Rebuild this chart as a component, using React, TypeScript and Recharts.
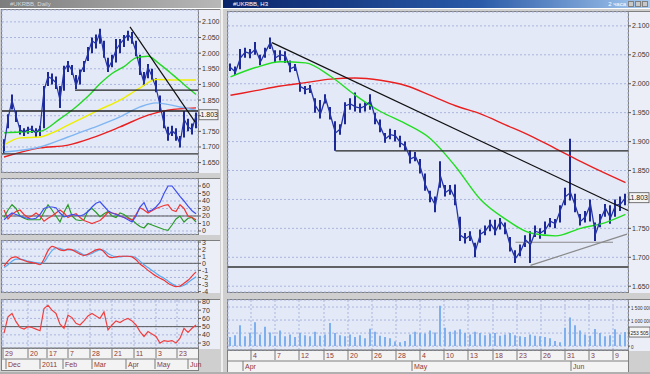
import React from "react";
import {
  ComposedChart,
  Bar,
  Line,
  XAxis,
  YAxis,
  CartesianGrid,
  ReferenceLine,
} from "recharts";

const FONT = "'Liberation Sans', 'DejaVu Sans', sans-serif";
const PLOT_BG = "#e4e9f8";
const AXIS_BG = "#eceef7";
const GRID = "#a9b5dc";
const FRAME = "#7f7f7f";
const WIN_BG = "#cfcfcf";

// ---- right window: 2h bars, Apr - Jun ----
const R_CLOSE = [
  2.028, 2.02, 2.045, 2.055, 2.052, 2.06, 2.038, 2.055, 2.072, 2.045,
  2.05, 2.048, 2.026, 2.03, 1.995, 1.99, 1.992, 1.962, 1.948, 1.975,
  1.945, 1.915, 1.922, 1.962, 1.965, 1.96, 1.958, 1.962, 1.97, 1.94,
  1.925, 1.905, 1.912, 1.91, 1.898, 1.892, 1.87, 1.874, 1.855, 1.825,
  1.805, 1.79, 1.84, 1.812, 1.818, 1.8, 1.738, 1.732, 1.738, 1.712,
  1.74, 1.746, 1.758, 1.745, 1.762, 1.75, 1.718, 1.698, 1.71, 1.73,
  1.722, 1.745, 1.742, 1.748, 1.762, 1.758, 1.782, 1.805, 1.812, 1.788,
  1.762, 1.77, 1.792, 1.74, 1.765, 1.785, 1.768, 1.79, 1.792, 1.803,
];
const R_HIGH = [
  2.035, 2.03, 2.06, 2.062, 2.06, 2.072, 2.05, 2.062, 2.08, 2.058,
  2.058, 2.056, 2.04, 2.034, 2.002, 1.996, 1.998, 1.975, 1.972, 1.982,
  1.96, 1.935, 1.93, 1.968, 1.975, 1.985, 1.966, 1.968, 1.982, 1.95,
  1.938, 1.915, 1.922, 1.92, 1.91, 1.9, 1.885, 1.882, 1.87, 1.845,
  1.815, 1.805, 1.866, 1.825, 1.825, 1.826, 1.77, 1.742, 1.745, 1.725,
  1.748, 1.755, 1.765, 1.765, 1.768, 1.76, 1.735, 1.712, 1.722, 1.738,
  1.745, 1.755, 1.75, 1.762, 1.768, 1.766, 1.79, 1.82, 1.905, 1.81,
  1.775, 1.78, 1.8, 1.76, 1.775, 1.792, 1.79, 1.8, 1.805, 1.81,
];
const R_LOW = [
  2.022, 2.015, 2.025, 2.045, 2.044, 2.05, 2.032, 2.045, 2.06, 2.036,
  2.04, 2.036, 2.02, 2.022, 1.986, 1.982, 1.984, 1.95, 1.94, 1.966,
  1.938, 1.884, 1.912, 1.93, 1.955, 1.952, 1.95, 1.952, 1.955, 1.93,
  1.916, 1.898, 1.904, 1.9, 1.89, 1.884, 1.862, 1.866, 1.845, 1.815,
  1.795, 1.778, 1.82, 1.805, 1.808, 1.79, 1.728, 1.724, 1.728, 1.7,
  1.725, 1.738, 1.745, 1.738, 1.748, 1.74, 1.71, 1.69, 1.702, 1.718,
  1.69, 1.735, 1.732, 1.74, 1.752, 1.75, 1.76, 1.79, 1.798, 1.778,
  1.755, 1.76, 1.762, 1.728, 1.752, 1.77, 1.758, 1.77, 1.78, 1.79,
];
const R_MA_GREEN = [
  [0, 2.012], [5, 2.028], [10, 2.038], [15, 2.036], [20, 2.013], [25, 1.98],
  [30, 1.952], [35, 1.931], [40, 1.905], [45, 1.857], [50, 1.8], [55, 1.766],
  [60, 1.742], [65, 1.737], [70, 1.75], [75, 1.76], [79, 1.774],
];
const R_MA_RED = [
  [0, 1.98], [5, 1.988], [10, 1.996], [15, 2.002], [20, 2.008], [25, 2.01],
  [30, 2.006], [35, 1.997], [40, 1.98], [45, 1.962], [50, 1.948], [55, 1.929],
  [60, 1.91], [65, 1.888], [70, 1.866], [75, 1.845], [79, 1.829],
];
// volume, thousands
const R_VOL = [
  350, 420, 800, 380, 500, 920, 450, 740, 520, 400,
  600, 380, 450, 350, 500, 420, 380, 550, 400, 450,
  890, 500, 420, 380, 450, 350, 420, 300, 670, 550,
  400, 350, 300, 180, 150, 200, 450, 550, 500, 480,
  600, 520, 1550, 700, 550, 600, 650, 500, 450, 550,
  500, 420, 480, 500, 400, 450, 500, 420, 380, 350,
  450, 400, 380, 350, 300, 200, 150, 700, 1100, 800,
  600, 450, 400, 660, 500, 380, 420, 650, 450, 540,
];
const R_TREND = [[8.3, 2.071], [79.5, 1.781]];
const R_RES = [[21, 1.884], [79.5, 1.884]];
const R_BASE = [[-0.5, 1.683], [79.5, 1.683]];
const R_SUP = [[57, 1.726], [76.5, 1.726]];
const R_RISE = [[60, 1.686], [79.3, 1.74]];
const R_DAY_TICKS = [4.1, 8.9, 13.7, 18.7, 23.5, 28.3, 33.1, 37.9, 42.7, 47.5, 52.5, 57.3, 62.1, 66.9, 71.7, 76.5];
const R_DAY_LABELS = ["4", "7", "12", "15", "20", "26", "28", "4", "10", "13", "18", "23", "26", "31", "3", "9"];
const R_MONTH_TICKS = [2.5, 36.3, 68.1];
const R_MONTH_LABELS = ["Apr", "May", "Jun"];
const PRICE_TICKS = [1.65, 1.7, 1.75, 1.8, 1.85, 1.9, 1.95, 2.0, 2.05, 2.1];
const VOL_TICKS = [0, 500000, 1000000, 1500000];

// ---- left window: daily, Dec 2010 - Jun 2011 ----
const L_CLOSE = [
  1.7, 1.79, 1.85, 1.8, 1.755, 1.748, 1.756, 1.758, 1.744, 1.76,
  1.88, 1.925, 1.918, 1.905, 1.85, 1.945, 1.965, 1.945, 1.895, 1.935,
  1.96, 2.0, 2.04, 2.03, 2.068, 1.995, 1.95, 1.975, 2.01, 2.03,
  2.045, 2.06, 2.045, 2.005, 1.95, 1.905, 1.955, 1.925, 1.89, 1.835,
  1.775, 1.735, 1.752, 1.74, 1.71, 1.79, 1.765, 1.755, 1.8,
];
const L_HIGH = [
  1.725, 1.805, 1.868, 1.815, 1.77, 1.76, 1.765, 1.768, 1.76, 1.768,
  1.895, 1.94, 1.935, 1.925, 1.895, 1.96, 1.975, 1.962, 1.93, 1.948,
  1.975, 2.02, 2.05, 2.06, 2.078, 2.04, 1.985, 1.995, 2.045, 2.045,
  2.058, 2.072, 2.068, 2.04, 1.995, 1.94, 1.965, 1.95, 1.92, 1.865,
  1.815, 1.765, 1.768, 1.76, 1.735, 1.815, 1.79, 1.775, 1.81,
];
const L_LOW = [
  1.68, 1.76, 1.82, 1.78, 1.74, 1.735, 1.742, 1.745, 1.73, 1.735,
  1.76, 1.895, 1.9, 1.885, 1.825, 1.88, 1.94, 1.93, 1.885, 1.9,
  1.94, 1.975, 2.0, 2.015, 2.03, 1.985, 1.94, 1.955, 1.97, 2.0,
  2.02, 2.04, 2.03, 1.99, 1.93, 1.895, 1.92, 1.915, 1.875, 1.815,
  1.76, 1.72, 1.735, 1.72, 1.698, 1.73, 1.75, 1.74, 1.76,
];
const L_MA_GREEN = [
  [0, 1.745], [4, 1.748], [9, 1.75], [14, 1.79], [18, 1.828], [21, 1.862],
  [24, 1.902], [27, 1.935], [30, 1.957], [33, 1.985], [36, 1.99], [39, 1.964],
  [42, 1.933], [45, 1.9], [48, 1.868],
];
const L_MA_YELLOW = [
  [0, 1.706], [4, 1.729], [9, 1.732], [12, 1.745], [16, 1.77], [20, 1.795],
  [24, 1.82], [29, 1.85], [34, 1.889], [38, 1.916], [43, 1.914], [48, 1.914],
];
const L_MA_BLUE = [
  [0, 1.684], [9, 1.7], [16, 1.732], [22, 1.76], [29, 1.796], [34, 1.828],
  [38, 1.841], [44, 1.828], [48, 1.818],
];
const L_MA_RED = [
  [0, 1.668], [9, 1.697], [16, 1.706], [22, 1.729], [29, 1.764], [36, 1.802],
  [41, 1.818], [48, 1.825],
];
const L_TREND = [[31.5, 2.084], [47.75, 1.78]];
const L_RES = [[17.75, 1.882], [48.5, 1.882]];
const L_MID = [[-0.5, 1.815], [48.5, 1.815]];
const L_BASE = [[-0.5, 1.678], [48.5, 1.678]];

const ADX_BLUE = [
  15, 20, 24, 22, 20, 18, 17, 16, 17, 22, 30, 32, 32, 31, 24, 19, 20, 22, 21, 20,
  22, 26, 32, 37, 39, 33, 27, 24, 22, 20, 18, 15, 12, 20, 32, 38, 26, 28, 32, 38,
  50, 60, 60, 53, 46, 40, 33, 27, 23,
];
const ADX_RED = [
  28, 16, 22, 26, 28, 22, 18, 20, 24, 20, 13, 17, 20, 24, 28, 24, 18, 21, 23, 18,
  14, 12, 10, 12, 14, 19, 25, 24, 23, 20, 18, 17, 14, 22, 31, 28, 24, 27, 30, 32,
  34, 35, 28, 26, 35, 30, 20, 18, 15,
];
const ADX_GREEN = [
  18, 28, 35, 30, 20, 17, 15, 15, 15, 15, 25, 35, 28, 20, 12, 25, 35, 20, 15, 14,
  15, 27, 30, 25, 19, 23, 26, 20, 18, 24, 22, 18, 15, 10, 6, 4, 10, 8, 6, 4,
  2, 1, 8, 16, 20, 12, 17, 18, 12,
];
const MACD_RED = [
  -0.4, 0.3, 0.8, 0.9, 0.6, 0.4, 0.2, 0.1, 0.0, -0.2, 0.6, 1.8, 2.4, 2.2, 1.9, 1.8, 2.0, 1.9, 1.6, 1.3,
  1.1, 1.3, 1.6, 1.9, 2.0, 1.6, 1.0, 0.8, 0.9, 1.0, 1.0, 1.0, 0.9, 0.5, -0.1, -0.5, -1.0, -1.4, -1.8, -2.1,
  -2.4, -2.8, -3.1, -3.3, -3.2, -2.8, -2.4, -1.8, -1.2,
];
const MACD_BLUE = [
  -0.6, -0.2, 0.3, 0.6, 0.6, 0.5, 0.3, 0.2, 0.1, 0.0, 0.2, 1.0, 1.8, 2.2, 2.1, 1.9, 1.9, 1.9, 1.8, 1.5,
  1.2, 1.2, 1.4, 1.7, 1.9, 1.8, 1.4, 1.1, 0.9, 0.9, 1.0, 1.0, 1.0, 0.8, 0.3, -0.2, -0.6, -1.0, -1.4, -1.8,
  -2.1, -2.5, -2.9, -3.2, -3.3, -3.1, -2.7, -2.3, -1.9,
];
const RSI = [
  42, 62, 66, 56, 49, 47, 50, 49, 47, 45, 72, 76, 70, 66, 53, 48, 64, 61, 54, 52,
  57, 63, 66, 63, 60, 68, 46, 52, 57, 55, 58, 60, 57, 52, 44, 38, 44, 41, 38, 30,
  33, 32, 33, 30, 36, 48, 43, 48, 52,
];
const L_DAY_TICKS = [-0.25, 6, 10.75, 16, 21.5, 27, 32.5, 38, 43.25];
const L_DAY_LABELS = ["29", "20", "17", "7", "28", "21", "11", "3", "23"];
const L_MONTH_TICKS = [0.5, 9, 14.75, 22, 30.5, 37.75, 46];
const L_MONTH_LABELS = ["Dec", "2011", "Feb", "Mar", "Apr", "May", "Jun"];

const pick = (pairs: number[][], i: number) => {
  const p = pairs.find((q) => q[0] === i);
  return p ? p[1] : null;
};

const rRows = R_CLOSE.map((c, i) => ({
  i,
  c,
  hi: R_HIGH[i],
  lo: R_LOW[i],
  g: pick(R_MA_GREEN, i),
  r: pick(R_MA_RED, i),
  v: R_VOL[i] * 1000,
}));

const lRows = L_CLOSE.map((c, i) => ({
  i,
  c,
  hi: L_HIGH[i],
  lo: L_LOW[i],
  g: pick(L_MA_GREEN, i),
  y: pick(L_MA_YELLOW, i),
  b: pick(L_MA_BLUE, i),
  r: pick(L_MA_RED, i),
  adxB: ADX_BLUE[i],
  adxR: ADX_RED[i],
  adxG: ADX_GREEN[i],
  mR: MACD_RED[i],
  mB: MACD_BLUE[i],
  rsi: RSI[i],
}));

const seg = (p: number[][]) => p.map(([x, y]) => ({ x, y }));

const fmtPrice = (v: number) => (Math.abs(v - 1.8) < 1e-6 ? "" : v.toFixed(3));
const fmtVol = (v: number) =>
  v === 500000 ? "" : String(v).replace(/\B(?=(\d{3})+(?!\d))/g, " ");
const fmtInt = (v: number) => String(v);

function YTick(props: any) {
  const { x, y, payload, fmt, size = 7 } = props;
  return (
    <text x={x} y={y + 2.5} textAnchor="start" fontSize={size} fill="#333" fontFamily={FONT}>
      {fmt(payload.value)}
    </text>
  );
}

function ValueTag(props: any) {
  const { viewBox, text, w, size = 7 } = props;
  if (!viewBox) return null;
  const x = viewBox.x + viewBox.width + 1;
  const y = viewBox.y;
  return (
    <g>
      <rect x={x} y={y - 5} width={w} height={10} fill="#f4f4f4" stroke="#555" strokeWidth={0.8} />
      <text x={x + 1.5} y={y + 2.5} fontSize={size} fill="#222" fontFamily={FONT}>
        {text}
      </text>
    </g>
  );
}

function DateTick(props: any) {
  const { x, y, payload, ticks, labels } = props;
  const k = ticks.indexOf(payload.value);
  return (
    <g>
      <line x1={x} x2={x} y1={y} y2={y + 10} stroke="#7a7a7a" />
      <text x={x + 2} y={y + 8} fontSize={7} fill="#8b3a3a" fontFamily={FONT}>
        {labels[k]}
      </text>
    </g>
  );
}

function Frame({ x, y, w, h, axisW = 22, rows = 0 }: any) {
  return (
    <>
      <div
        style={{
          position: "absolute", left: x - 1, top: y - 1, width: w + axisW + 1, height: h + 1,
          background: AXIS_BG, borderTop: `1px solid ${FRAME}`,
        }}
      />
      <div
        style={{
          position: "absolute", left: x - 1, top: y - 1, width: w, height: h,
          background: PLOT_BG, border: `1px solid ${FRAME}`,
        }}
      />
      {rows > 0 && (
        <div
          style={{
            position: "absolute", left: x - 1, top: y + h, width: w, height: rows * 11 - 1,
            background: "#f3f3f3", border: `1px solid ${FRAME}`,
          }}
        />
      )}
    </>
  );
}

function Chart({ x, y, w, h, extra = 0, data, children }: any) {
  return (
    <div style={{ position: "absolute", left: x, top: y }}>
      <ComposedChart
        width={w + 22}
        height={h + extra}
        data={data}
        margin={{ top: 0, right: 0, bottom: 0, left: 0 }}
      >
        {children}
      </ComposedChart>
    </div>
  );
}

const hiddenX = (domain: number[], ticks: number[]) => (
  <XAxis
    dataKey="i"
    type="number"
    domain={domain}
    ticks={ticks}
    height={0}
    tick={false}
    tickLine={false}
    axisLine={false}
    allowDataOverflow
  />
);

const dateAxes = (domain: number[], dTicks: number[], dLabels: string[], mTicks: number[], mLabels: string[]) => [
  <XAxis
    key="d"
    dataKey="i"
    type="number"
    domain={domain}
    ticks={dTicks}
    interval={0}
    height={11}
    tickSize={0}
    tickMargin={0}
    tickLine={false}
    axisLine={{ stroke: FRAME }}
    tick={(p: any) => <DateTick {...p} ticks={dTicks} labels={dLabels} />}
    allowDataOverflow
  />,
  <XAxis
    key="m"
    xAxisId="m"
    dataKey="i"
    type="number"
    domain={domain}
    ticks={mTicks}
    interval={0}
    height={11}
    tickSize={0}
    tickMargin={0}
    tickLine={false}
    axisLine={{ stroke: FRAME }}
    tick={(p: any) => <DateTick {...p} ticks={mTicks} labels={mLabels} />}
    allowDataOverflow
  />,
];

const rightY = (domain: number[], ticks: number[], fmt: (v: number) => string, size = 7, tickSize = 3) => (
  <YAxis
    orientation="right"
    width={22}
    domain={domain}
    ticks={ticks}
    interval={0}
    tick={(p: any) => <YTick {...p} fmt={fmt} size={size} />}
    tickSize={tickSize}
    tickMargin={1}
    tickLine={{ stroke: "#555" }}
    axisLine={false}
    allowDataOverflow
  />
);

const maLine = (key: string, color: string) => (
  <Line
    key={key}
    dataKey={key}
    type="monotone"
    stroke={color}
    strokeWidth={1.4}
    dot={false}
    connectNulls
    isAnimationActive={false}
  />
);

const segLine = (p: number[][], color: string, w = 1.2) => (
  <ReferenceLine segment={seg(p)} stroke={color} strokeWidth={w} ifOverflow="visible" />
);

const R_DOM = [-0.5, 79.5];
const L_DOM = [-0.5, 48.5];

export default function App() {
  return (
    <div
      style={{
        position: "absolute", left: 0, top: 0, width: 650, height: 374,
        overflow: "hidden", background: WIN_BG, fontFamily: FONT,
      }}
    >
      <style>{`.recharts-surface { overflow: visible; }`}</style>
      {/* title bars */}
      <div
        style={{
          position: "absolute", left: 0, top: 0, width: 221, height: 8,
          background: "linear-gradient(to right, #7d7d7d, #b8b8b8)",
          color: "#d8d8d8", fontSize: 6, lineHeight: "8px", paddingLeft: 10, boxSizing: "border-box",
        }}
      >
        #UKRBB, Daily
      </div>
      <div
        style={{
          position: "absolute", left: 223, top: 0, width: 427, height: 8,
          background: "linear-gradient(to right, #0a246a, #2a5aa8 60%, #a6caf0)",
          color: "#fff", fontSize: 6, lineHeight: "8px", paddingLeft: 10, boxSizing: "border-box",
        }}
      >
        #UKRBB, H3
        <span style={{ position: "absolute", right: 24, top: 0 }}>2 часа</span>
        {[0, 1, 2].map((k) => (
          <span
            key={k}
            style={{
              position: "absolute", right: 2 + k * 7, top: 1, width: 6, height: 6,
              background: "#c8c8c8", border: "1px solid #808080", boxSizing: "border-box",
            }}
          />
        ))}
      </div>
      <div style={{ position: "absolute", left: 221, top: 0, width: 2, height: 374, background: "#f0f0f0" }} />
      <div style={{ position: "absolute", left: 0, top: 8, width: 650, height: 1, background: "#ffffff" }} />

      {/* ---------- left window ---------- */}
      <Frame x={2} y={10} w={196} h={162} />
      <Chart x={2} y={10} w={196} h={162} data={lRows}>
        <CartesianGrid stroke={GRID} strokeDasharray="2 2" />
        {hiddenX(L_DOM, L_DAY_TICKS)}
        {rightY([1.62, 2.138], PRICE_TICKS, fmtPrice)}
        {maLine("r", "#e82020")}
        {maLine("b", "#7fb6f2")}
        {maLine("y", "#eeee00")}
        {maLine("g", "#22d822")}
        {segLine(L_RES, "#222", 1.2)}
        {segLine(L_MID, "#222", 1.6)}
        {segLine(L_BASE, "#333", 1.4)}
        <Bar dataKey={(d: any) => [d.lo, d.hi]} barSize={2} fill="#1b2896" isAnimationActive={false} />
        <Line dataKey="c" type="linear" stroke="#2434a6" strokeWidth={1.2} dot={false} isAnimationActive={false} />
        {segLine(L_TREND, "#111", 1.2)}
        <ReferenceLine y={1.803} stroke="none" label={<ValueTag text="1.803" w={19} />} />
      </Chart>

      <Frame x={2} y={179} w={196} h={55} />
      <Chart x={2} y={179} w={196} h={55} data={lRows}>
        <CartesianGrid stroke={GRID} strokeDasharray="2 2" />
        {hiddenX(L_DOM, L_DAY_TICKS)}
        {rightY([-4, 69.3], [0, 10, 20, 30, 40, 50, 60], fmtInt)}
        <ReferenceLine y={20} stroke="#5a5a5a" strokeWidth={1} />
        <Line dataKey="adxG" type="linear" stroke="#2a9a2a" strokeWidth={1.2} dot={false} isAnimationActive={false} />
        <Line dataKey="adxR" type="linear" stroke="#f03535" strokeWidth={1.2} dot={false} isAnimationActive={false} />
        <Line dataKey="adxB" type="linear" stroke="#4050f0" strokeWidth={1.2} dot={false} isAnimationActive={false} />
      </Chart>

      <Frame x={2} y={241} w={196} h={51} />
      <Chart x={2} y={241} w={196} h={51} data={lRows}>
        <CartesianGrid stroke={GRID} strokeDasharray="2 2" />
        {hiddenX(L_DOM, L_DAY_TICKS)}
        {rightY([-4.05, 3.15], [-4, -3, -2, -1, 0, 1, 2, 3], fmtInt)}
        <ReferenceLine y={0} stroke="#5a5a5a" strokeWidth={1} />
        <Line dataKey="mB" type="monotone" stroke="#5aa8f0" strokeWidth={1.2} dot={false} isAnimationActive={false} />
        <Line dataKey="mR" type="monotone" stroke="#f03535" strokeWidth={1.2} dot={false} isAnimationActive={false} />
      </Chart>

      <Frame x={2} y={300} w={196} h={48} rows={2} />
      <Chart x={2} y={300} w={196} h={48} extra={22} data={lRows}>
        <CartesianGrid stroke={GRID} strokeDasharray="2 2" />
        {dateAxes(L_DOM, L_DAY_TICKS, L_DAY_LABELS, L_MONTH_TICKS, L_MONTH_LABELS)}
        {rightY([24, 82.4], [30, 40, 50, 60, 70, 80], fmtInt)}
        <ReferenceLine y={50} stroke="#5a5a5a" strokeWidth={1} />
        <Line dataKey="rsi" type="linear" stroke="#f04040" strokeWidth={1.2} dot={false} isAnimationActive={false} />
      </Chart>

      {/* ---------- right window ---------- */}
      <Frame x={228} y={12} w={400} h={280} />
      <Chart x={228} y={12} w={400} h={280} data={rRows}>
        <CartesianGrid stroke={GRID} strokeDasharray="2 2" />
        {hiddenX(R_DOM, R_DAY_TICKS)}
        {rightY([1.64, 2.124], PRICE_TICKS, fmtPrice)}
        {maLine("r", "#e82020")}
        {maLine("g", "#22dd22")}
        {segLine(R_RES, "#222", 1.2)}
        {segLine(R_BASE, "#333", 1.5)}
        {segLine(R_SUP, "#8a8a8a", 1.2)}
        {segLine(R_RISE, "#8a8a8a", 1.2)}
        <Bar dataKey={(d: any) => [d.lo, d.hi]} barSize={2} fill="#1b2896" isAnimationActive={false} />
        <Line dataKey="c" type="linear" stroke="#2434a6" strokeWidth={1.3} dot={false} isAnimationActive={false} />
        {segLine(R_TREND, "#111", 1.2)}
        <ReferenceLine y={1.803} stroke="none" label={<ValueTag text="1.803" w={20} />} />
      </Chart>

      <Frame x={228} y={300} w={400} h={50} rows={2} />
      <Chart x={228} y={300} w={400} h={50} extra={22} data={rRows}>
        <CartesianGrid stroke={GRID} strokeDasharray="2 2" />
        {dateAxes(R_DOM, R_DAY_TICKS, R_DAY_LABELS, R_MONTH_TICKS, R_MONTH_LABELS)}
        {rightY([-150000, 1770000], VOL_TICKS, fmtVol, 4.6, 2)}
        <Bar dataKey="v" barSize={2} fill="#7eb0f0" isAnimationActive={false} />
        <ReferenceLine y={540000} stroke="none" label={<ValueTag text="253 505" w={21} size={5} />} />
      </Chart>

      <div style={{ position: "absolute", left: 0, top: 372, width: 650, height: 2, background: "#b0b0b0" }} />
    </div>
  );
}
